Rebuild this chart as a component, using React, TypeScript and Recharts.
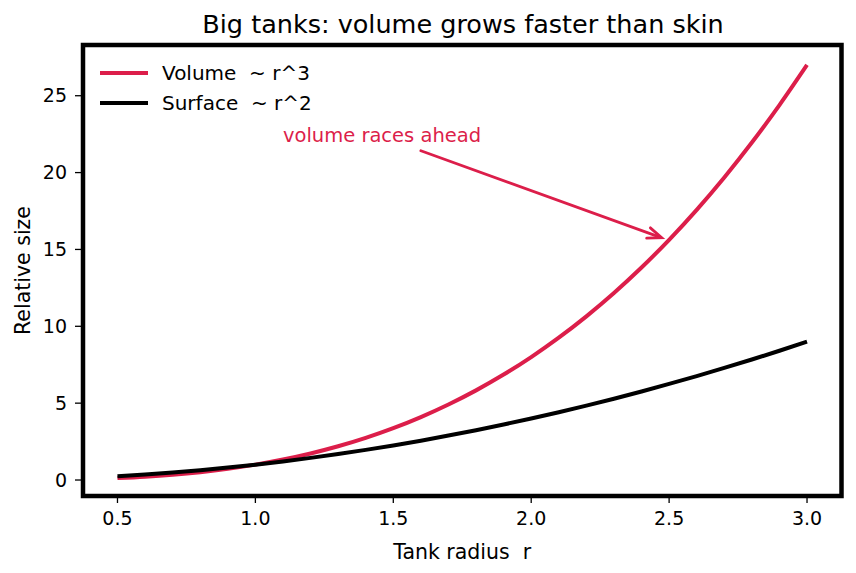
import React from "react";
import { LineChart, Line, XAxis, YAxis, ReferenceArea, ReferenceLine, ReferenceDot, Label } from "recharts";

const radius = [0.5, 0.6, 0.7, 0.8, 0.9, 1.0, 1.1, 1.2, 1.3, 1.4, 1.5, 1.6, 1.7, 1.8, 1.9, 2.0, 2.1, 2.2, 2.3, 2.4, 2.5, 2.6, 2.7, 2.8, 2.9, 3.0];
const volume = [0.125, 0.216, 0.343, 0.512, 0.729, 1.0, 1.331, 1.728, 2.197, 2.744, 3.375, 4.096, 4.913, 5.832, 6.859, 8.0, 9.261, 10.648, 12.167, 13.824, 15.625, 17.576, 19.683, 21.952, 24.389, 27.0];
const surface = [0.25, 0.36, 0.49, 0.64, 0.81, 1.0, 1.21, 1.44, 1.69, 1.96, 2.25, 2.56, 2.89, 3.24, 3.61, 4.0, 4.41, 4.84, 5.29, 5.76, 6.25, 6.76, 7.29, 7.84, 8.41, 9.0];
const xTicks = [0.5, 1.0, 1.5, 2.0, 2.5, 3.0];
const yTicks = [0, 5, 10, 15, 20, 25];
const seriesNames = ["Volume\u00a0 ~ r^3", "Surface\u00a0 ~ r^2"];

const FONT = "'DejaVu Sans', sans-serif";
const RED = "#dc1e4a";
const X_DOMAIN = [0.375, 3.125];
const Y_DOMAIN = [-1.04, 28.3];

const data = radius.map((r, i) => ({ r, volume: volume[i], surface: surface[i] }));

// arrow drawn through the reference line's pixel ends
function Arrow(props: any) {
  const { x1, y1, x2, y2 } = props;
  const ang = Math.atan2(y2 - y1, x2 - x1);
  const len = 14;
  const w = 5.5;
  const bx = x2 - len * Math.cos(ang);
  const by = y2 - len * Math.sin(ang);
  const px = -Math.sin(ang) * w;
  const py = Math.cos(ang) * w;
  return (
    <g>
      <line x1={x1} y1={y1} x2={x2 - 2 * Math.cos(ang)} y2={y2 - 2 * Math.sin(ang)} stroke={RED} strokeWidth={2.8} strokeLinecap="round" />
      <path d={`M${bx + px},${by + py} L${x2},${y2} L${bx - px},${by - py}`} fill="none" stroke={RED} strokeWidth={2.8} strokeLinejoin="miter" strokeLinecap="round" />
    </g>
  );
}

function Note(props: any) {
  return (
    <text x={props.cx} y={props.cy} fill={RED} fontSize={19.5} fontFamily={FONT}>
      volume races ahead
    </text>
  );
}

export default function App() {
  return (
    <div style={{ position: "absolute", left: 0, top: 0, width: 856, height: 573, background: "#fff" }}>
      <div style={{ position: "absolute", left: 0, top: 8, width: 926, textAlign: "center", fontFamily: FONT, fontSize: 25.5, lineHeight: "32px", color: "#000", whiteSpace: "pre" }}>
        Big tanks: volume grows faster than skin
      </div>
      <LineChart width={856} height={573} data={data} margin={{ top: 45, right: 14.5, left: 0, bottom: 0 }}>
        <XAxis
          dataKey="r"
          type="number"
          domain={X_DOMAIN}
          ticks={xTicks}
          allowDataOverflow
          tickFormatter={(v: number) => v.toFixed(1)}
          height={77}
          axisLine={false}
          tickLine={{ stroke: "#000", strokeWidth: 1.3 }}
          tickSize={7}
          tickMargin={9}
          tick={{ fill: "#000", fontSize: 19, fontFamily: FONT }}
        >
          <Label value={"Tank radius\u00a0 r"} position="insideBottom" offset={14} fill="#000" fontSize={20.5} fontFamily={FONT} />
        </XAxis>
        <YAxis
          type="number"
          domain={Y_DOMAIN}
          ticks={yTicks}
          allowDataOverflow
          width={83}
          axisLine={false}
          tickLine={{ stroke: "#000", strokeWidth: 1.3 }}
          tickSize={8}
          tickMargin={8}
          tick={{ fill: "#000", fontSize: 19, fontFamily: FONT }}
        >
          <Label value="Relative size" angle={-90} position="insideLeft" offset={23} fill="#000" fontSize={20.5} fontFamily={FONT} style={{ textAnchor: "middle" }} />
        </YAxis>
        <Line dataKey="volume" name={seriesNames[0]} type="monotone" stroke={RED} strokeWidth={4} dot={false} isAnimationActive={false} />
        <Line dataKey="surface" name={seriesNames[1]} type="monotone" stroke="#000" strokeWidth={4} dot={false} isAnimationActive={false} />
        <ReferenceLine segment={[{ x: 1.6, y: 21.42 }, { x: 2.473, y: 15.76 }]} shape={Arrow} ifOverflow="visible" />
        <ReferenceDot x={1.1} y={22} r={0} shape={Note} ifOverflow="visible" />
        <ReferenceArea x1={X_DOMAIN[0]} x2={X_DOMAIN[1]} y1={Y_DOMAIN[0]} y2={Y_DOMAIN[1]} fill="none" stroke="#000" strokeWidth={4.5} ifOverflow="visible" />
      </LineChart>
      <div style={{ position: "absolute", left: 100, top: 58, fontFamily: FONT, fontSize: 20, color: "#000", whiteSpace: "pre" }}>
        {seriesNames.map((n, i) => (
          <div key={n} style={{ display: "flex", alignItems: "center", height: 30 }}>
            <span style={{ display: "inline-block", width: 48, height: 4.5, background: i === 0 ? RED : "#000", marginRight: 14 }} />
            <span>{n}</span>
          </div>
        ))}
      </div>
    </div>
  );
}
